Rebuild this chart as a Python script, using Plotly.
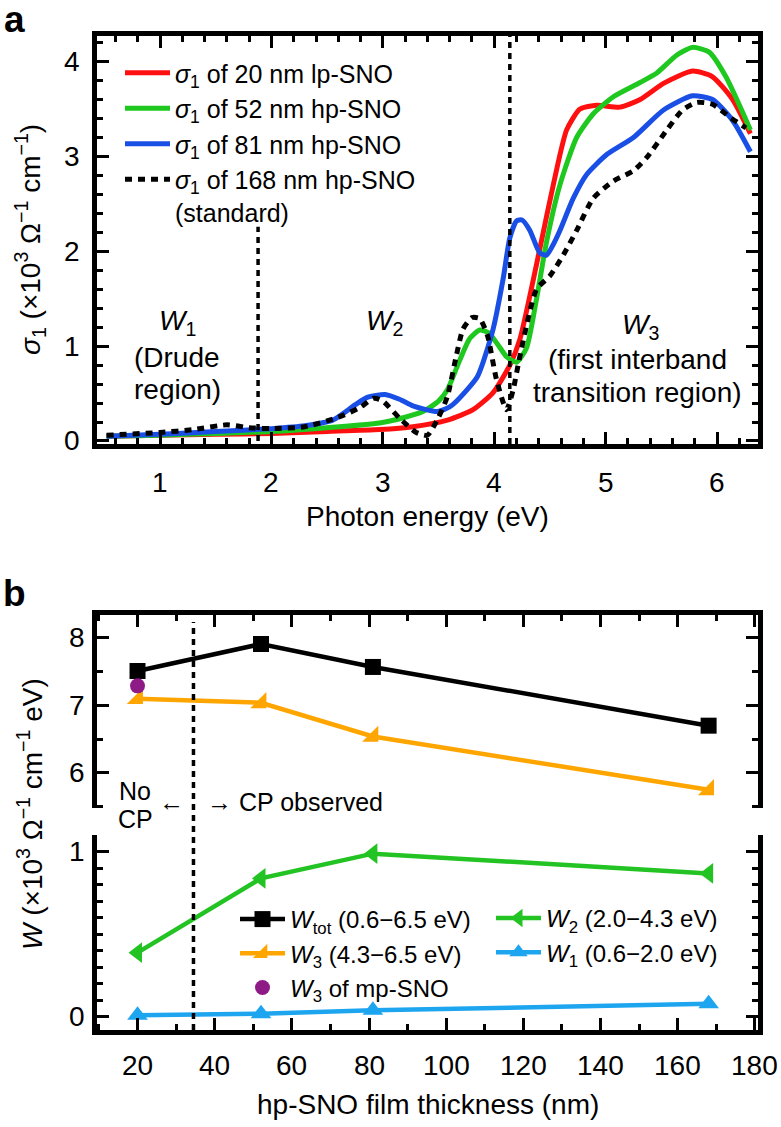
import plotly.graph_objects as go

W, H = 781, 1127
def fx(p): return p / W
def fy(p): return 1 - p / H

# ---------------- Panel a data ----------------
E_red = [0.52, 1.0, 1.5, 2.0, 2.5, 2.97, 3.27, 3.58, 3.81, 3.99, 4.14, 4.23, 4.32, 4.41, 4.53, 4.65, 4.77, 4.92, 5.13, 5.31, 5.52, 5.78, 5.96, 6.14, 6.30]
s_red = [0.05, 0.06, 0.07, 0.08, 0.10, 0.12, 0.15, 0.22, 0.33, 0.51, 0.80, 1.07, 1.53, 2.03, 2.70, 3.28, 3.50, 3.54, 3.52, 3.60, 3.77, 3.90, 3.84, 3.60, 3.24]

E_green = [0.52, 1.0, 1.5, 2.0, 2.5, 2.97, 3.2, 3.36, 3.5, 3.58, 3.69, 3.78, 3.87, 3.95, 4.03, 4.11, 4.2, 4.29, 4.38, 4.47, 4.59, 4.74, 4.89, 5.07, 5.31, 5.46, 5.64, 5.78, 5.93, 6.08, 6.30]
s_green = [0.05, 0.06, 0.08, 0.10, 0.14, 0.19, 0.25, 0.31, 0.42, 0.54, 0.85, 1.08, 1.17, 1.14, 1.02, 0.89, 0.83, 0.98, 1.50, 2.10, 2.70, 3.20, 3.45, 3.63, 3.78, 3.88, 4.07, 4.15, 4.10, 3.84, 3.28]

E_blue = [0.52, 1.0, 1.5, 2.0, 2.3, 2.55, 2.75, 2.86, 3.02, 3.15, 3.27, 3.49, 3.6, 3.67, 3.85, 3.99, 4.08, 4.14, 4.2, 4.25, 4.32, 4.41, 4.47, 4.52, 4.59, 4.71, 4.83, 5.01, 5.25, 5.52, 5.78, 5.96, 6.14, 6.30]
s_blue = [0.05, 0.07, 0.10, 0.13, 0.16, 0.22, 0.38, 0.46, 0.49, 0.44, 0.37, 0.31, 0.36, 0.43, 0.68, 1.18, 1.71, 2.14, 2.32, 2.33, 2.22, 1.98, 1.96, 2.05, 2.22, 2.56, 2.81, 3.02, 3.20, 3.49, 3.64, 3.60, 3.38, 3.05]

E_black = [0.52, 1.0, 1.3, 1.6, 1.8, 2.0, 2.3, 2.6, 2.79, 2.92, 3.0, 3.15, 3.3, 3.4, 3.5, 3.58, 3.66, 3.72, 3.8, 3.87, 3.94, 4.02, 4.11, 4.17, 4.23, 4.38, 4.50, 4.62, 4.74, 4.89, 5.07, 5.25, 5.37, 5.55, 5.69, 5.82, 5.96, 6.12, 6.26]
s_black = [0.06, 0.09, 0.12, 0.17, 0.14, 0.13, 0.15, 0.25, 0.35, 0.45, 0.42, 0.24, 0.09, 0.06, 0.25, 0.47, 0.90, 1.18, 1.30, 1.29, 1.11, 0.65, 0.33, 0.54, 0.89, 1.60, 1.74, 1.96, 2.22, 2.56, 2.74, 2.85, 2.99, 3.28, 3.49, 3.57, 3.55, 3.41, 3.30]

names_a = ["<i>σ</i><sub>1</sub> of 20 nm lp-SNO",
           "<i>σ</i><sub>1</sub> of 52 nm hp-SNO",
           "<i>σ</i><sub>1</sub> of 81 nm hp-SNO",
           "<i>σ</i><sub>1</sub> of 168 nm hp-SNO<br>(standard)"]

ticks_a_x = [1, 2, 3, 4, 5, 6]
ticks_a_y = [0, 1, 2, 3, 4]

W1_boundary = 1.88
W3_boundary = 4.14

# ---------------- Panel b data ----------------
thickness = [20, 52, 81, 168]
W_tot = [7.51, 7.91, 7.57, 6.70]
W_3 = [7.10, 7.04, 6.54, 5.75]
mp_thickness = [20]
W_3_mp = [7.29]
W_2 = [0.39, 0.84, 0.99, 0.87]
W_1 = [0.01, 0.02, 0.04, 0.08]
CP_boundary = 34.5

ticks_b_x = [20, 40, 60, 80, 100, 120, 140, 160, 180]
ticks_b_y_upper = [6, 7, 8]
ticks_b_y_lower = [0, 1]

FONT = "Liberation Sans, Arial, Helvetica, sans-serif"

fig = go.Figure()

fig.add_trace(go.Scatter(x=E_red, y=s_red, mode="lines", name=names_a[0],
                         line=dict(color="#ff1010", width=5, shape="spline", smoothing=0.6),
                         xaxis="x", yaxis="y", legend="legend"))
fig.add_trace(go.Scatter(x=E_green, y=s_green, mode="lines", name=names_a[1],
                         line=dict(color="#1ec81e", width=5, shape="spline", smoothing=0.6),
                         xaxis="x", yaxis="y", legend="legend"))
fig.add_trace(go.Scatter(x=E_blue, y=s_blue, mode="lines", name=names_a[2],
                         line=dict(color="#1a4fe6", width=5, shape="spline", smoothing=0.6),
                         xaxis="x", yaxis="y", legend="legend"))
fig.add_trace(go.Scatter(x=E_black, y=s_black, mode="lines", name=names_a[3],
                         line=dict(color="black", width=5, dash="7px,6px", shape="spline", smoothing=0.6),
                         xaxis="x", yaxis="y", legend="legend"))

fig.add_trace(go.Scatter(x=thickness, y=W_tot, mode="lines+markers",
                         name="<i>W</i><sub>tot</sub> (0.6−6.5 eV)",
                         line=dict(color="black", width=4.5),
                         marker=dict(symbol="square", size=16, color="black"),
                         xaxis="x2", yaxis="y2", legend="legend2"))
fig.add_trace(go.Scatter(x=thickness, y=W_3, mode="lines+markers",
                         name="<i>W</i><sub>3</sub> (4.3−6.5 eV)",
                         line=dict(color="#ffa500", width=4.5),
                         marker=dict(symbol="triangle-se", size=18, color="#ffa500"),
                         xaxis="x2", yaxis="y2", legend="legend2"))
fig.add_trace(go.Scatter(x=mp_thickness, y=W_3_mp, mode="markers",
                         name="<i>W</i><sub>3</sub> of mp-SNO",
                         marker=dict(symbol="circle", size=15, color="#8e1a86"),
                         xaxis="x2", yaxis="y2", legend="legend2"))
fig.add_trace(go.Scatter(x=thickness, y=W_2, mode="lines+markers",
                         name="<i>W</i><sub>2</sub> (2.0−4.3 eV)",
                         line=dict(color="#22c322", width=4.5),
                         marker=dict(symbol="triangle-left", size=18, color="#22c322"),
                         xaxis="x3", yaxis="y3", legend="legend3"))
fig.add_trace(go.Scatter(x=thickness, y=W_1, mode="lines+markers",
                         name="<i>W</i><sub>1</sub> (0.6−2.0 eV)",
                         line=dict(color="#1ea5f0", width=4.5),
                         marker=dict(symbol="triangle-up", size=18, color="#1ea5f0"),
                         xaxis="x3", yaxis="y3", legend="legend3"))

axis_common = dict(showline=True, linecolor="black", linewidth=5,
                   ticks="inside", ticklen=12, tickwidth=3, tickcolor="black",
                   showgrid=False, zeroline=False, showticklabels=False)

def minor(d):
    return dict(dtick=d, tick0=0, ticks="inside", ticklen=6, tickwidth=3, tickcolor="black")

xdom = [fx(97), fx(758)]

fig.update_layout(
    width=W, height=H, autosize=False,
    margin=dict(l=0, r=0, t=0, b=0),
    paper_bgcolor="white", plot_bgcolor="white",
    font=dict(family=FONT, size=25, color="black"),
    xaxis=dict(domain=xdom, anchor="y", range=[0.434, 6.368],
               tickvals=ticks_a_x, mirror="ticks", minor=minor(0.2), **axis_common),
    yaxis=dict(domain=[fy(444), fy(36)], anchor="x", range=[-0.032, 4.27],
               tickvals=ticks_a_y, mirror="ticks", minor=minor(0.2), **axis_common),
    xaxis2=dict(domain=xdom, anchor="y2", side="top", range=[9.5, 180.8],
                tickvals=ticks_b_x, minor=minor(10), **axis_common),
    yaxis2=dict(domain=[fy(808), fy(615)], anchor="x2", range=[5.48, 8.34],
                tickvals=ticks_b_y_upper, mirror="ticks", minor=minor(0.5), **axis_common),
    xaxis3=dict(domain=xdom, anchor="y3", side="bottom", range=[9.5, 180.8], matches="x2",
                tickvals=ticks_b_x, minor=minor(10), **axis_common),
    yaxis3=dict(domain=[fy(1030), fy(835)], anchor="x3", range=[-0.079, 1.103],
                tickvals=ticks_b_y_lower, mirror="ticks", minor=minor(0.1), **axis_common),
    legend=dict(x=fx(120), y=fy(50), xanchor="left", yanchor="top",
                bgcolor="rgba(0,0,0,0)", font=dict(family=FONT, size=25),
                valign="top", itemwidth=45, tracegroupgap=0),
    legend2=dict(x=fx(235), y=fy(897), xanchor="left", yanchor="top",
                 bgcolor="rgba(0,0,0,0)", font=dict(family=FONT, size=24),
                 itemwidth=45, tracegroupgap=0),
    legend3=dict(x=fx(491), y=fy(896), xanchor="left", yanchor="top",
                 bgcolor="rgba(0,0,0,0)", font=dict(family=FONT, size=24),
                 itemwidth=45, tracegroupgap=0),
)

fig.add_shape(type="line", xref="x", yref="y", x0=W1_boundary, x1=W1_boundary, y0=0, y1=2.26,
              line=dict(color="black", width=3.5, dash="6px,5px"))
fig.add_shape(type="line", xref="x", yref="y domain", x0=W3_boundary, x1=W3_boundary, y0=0, y1=1,
              line=dict(color="black", width=3.5, dash="6px,5px"))
fig.add_shape(type="line", xref="x2", yref="paper", x0=CP_boundary, x1=CP_boundary,
              y0=fy(1030), y1=fy(622), line=dict(color="black", width=3.5, dash="6px,5px"))

def ann(text, x, y, size=28, **kw):
    fig.add_annotation(text=text, x=fx(x), y=fy(y), xref="paper", yref="paper",
                       showarrow=False, xanchor=kw.pop("xanchor", "center"),
                       yanchor=kw.pop("yanchor", "middle"),
                       font=dict(family=FONT, size=size, color="black"), **kw)

tick_font = dict(family=FONT, size=28, color="black")
# tick labels placed through the axis scales
for t in ticks_a_x:
    fig.add_annotation(text=str(t), x=t, xref="x", y=fy(482), yref="paper",
                       showarrow=False, xanchor="center", yanchor="middle", borderpad=0, font=tick_font)
for t in ticks_a_y:
    fig.add_annotation(text=str(t), x=fx(81), xref="paper", y=t, yref="y",
                       showarrow=False, xanchor="right", yanchor="middle", borderpad=0, font=tick_font)
for t in ticks_b_x:
    fig.add_annotation(text=str(t), x=t, xref="x3", y=fy(1065), yref="paper",
                       showarrow=False, xanchor="center", yanchor="middle", borderpad=0, font=tick_font)
for t in ticks_b_y_upper:
    fig.add_annotation(text=str(t), x=fx(86), xref="paper", y=t, yref="y2",
                       showarrow=False, xanchor="right", yanchor="middle", borderpad=0, font=tick_font)
for t in ticks_b_y_lower:
    fig.add_annotation(text=str(t), x=fx(86), xref="paper", y=t, yref="y3",
                       showarrow=False, xanchor="right", yanchor="middle", borderpad=0, font=tick_font)

ann("<b>a</b>", 14, 19, size=37)
ann("<b>b</b>", 14, 594, size=37)

ann("<i>W</i><sub>1</sub>", 177, 323)
ann("(Drude", 177, 357)
ann("region)", 177, 389)
ann("<i>W</i><sub>2</sub>", 384, 323)
ann("<i>W</i><sub>3</sub>", 640, 326)
ann("(first interband", 637, 360)
ann("transition region)", 637, 392)

ann("Photon energy (eV)", 427, 517)
ann("<i>σ</i><sub>1</sub> (×10<sup>3</sup> Ω<sup>−1</sup> cm<sup>−1</sup>)", 30, 240, textangle=-90)
ann("hp-SNO film thickness (nm)", 428, 1104)
ann("<i>W</i> (×10<sup>3</sup> Ω<sup>−1</sup> cm<sup>−1</sup> eV)", 30, 814, textangle=-90)

ann("No", 135, 791, size=25)
ann("CP", 135, 819, size=25)
ann("←", 171, 802, size=25)
ann("→ CP observed", 295, 802, size=25)

fig.write_html("out.html", config={"displayModeBar": False},
               post_script="document.body.style.margin='0';document.body.style.overflow='hidden';")
